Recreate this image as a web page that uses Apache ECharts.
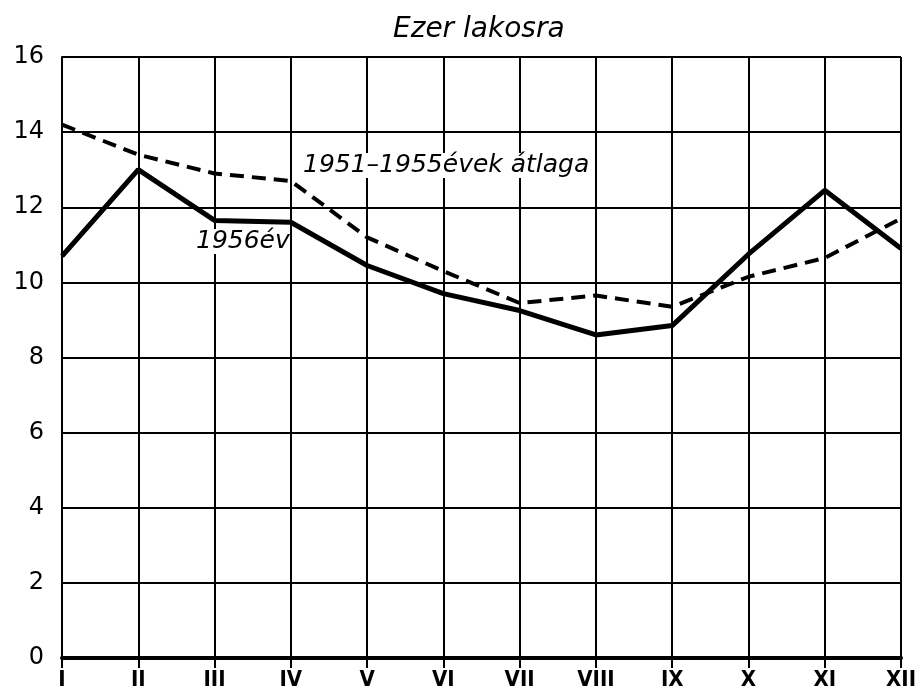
<!DOCTYPE html>
<html>
<head>
<meta charset="utf-8">
<script src="https://cdn.jsdelivr.net/npm/echarts@6/dist/echarts.min.js"></script>
<style>
  html, body { margin: 0; padding: 0; background: #fff; }
  #chart { width: 919px; height: 699px; }
</style>
</head>
<body>
<div id="chart"></div>
<script>
var months = ["I", "II", "III", "IV", "V", "VI", "VII", "VIII", "IX", "X", "XI", "XII"];
var year1956 = [10.7, 13.0, 11.65, 11.6, 10.45, 9.7, 9.25, 8.6, 8.85, 10.75, 12.45, 10.9];
var avg5155 = [14.2, 13.4, 12.9, 12.7, 11.2, 10.3, 9.45, 9.65, 9.35, 10.15, 10.65, 11.7];
var yTicks = [0, 2, 4, 6, 8, 10, 12, 14, 16];

var font = "DejaVu Sans";

var myChart = echarts.init(document.getElementById('chart'));
myChart.setOption({
	animation : false,
	backgroundColor : '#fff',
	title : {
		text : 'Ezer lakosra',
		left : 388,
		top : 11,
		textStyle : {
			fontFamily : font,
			fontStyle : 'italic',
			fontWeight : 'normal',
			fontSize : 28,
			color : '#000'
		}
	},
	grid : {
		left : 62,
		right : 15,
		top : 57,
		bottom : 41
	},
	xAxis : {
		type : 'category',
		data : months,
		boundaryGap : false,
		axisLine : { show : true, lineStyle : { color : '#000', width : 4 } },
		axisTick : { show : true, length : 10, lineStyle : { color : '#000', width : 2 } },
		axisLabel : {
			interval : 0,
			margin : 11,
			fontFamily : "DejaVu Sans Condensed",
			fontWeight : 'bold',
			fontSize : 22,
			lineHeight : 22,
			color : '#000'
		},
		splitLine : { show : true, lineStyle : { color : '#000', width : 2 } }
	},
	yAxis : {
		type : 'value',
		min : 0,
		max : 16,
		interval : 2,
		axisLine : { show : true, lineStyle : { color : '#000', width : 2 } },
		axisTick : { show : false },
		axisLabel : {
			margin : 18,
			fontFamily : font,
			fontSize : 24,
			color : '#000',
			formatter : function(v) { return yTicks.indexOf(v) >= 0 ? String(v) : ''; }
		},
		splitLine : { show : true, lineStyle : { color : '#000', width : 2 } }
	},
	graphic : [
		{
			type : 'text',
			left : 303,
			top : 153,
			z : 10,
			style : {
				text : '1951\u20131955évek átlaga',
				font : 'italic 25px "DejaVu Sans"',
				fill : '#000',
				backgroundColor : '#fff'
			}
		},
		{
			type : 'text',
			left : 196,
			top : 229,
			z : 10,
			style : {
				text : '1956év',
				font : 'italic 25px "DejaVu Sans"',
				fill : '#000',
				backgroundColor : '#fff'
			}
		}
	],
	series : [
		{
			name : '1951-1955 évek átlaga',
			type : 'line',
			data : avg5155,
			symbol : 'none',
			lineStyle : { color : '#000', width : 4, type : [14, 8] },
			z : 3
		},
		{
			name : '1956 év',
			type : 'line',
			data : year1956,
			symbol : 'none',
			lineStyle : { color : '#000', width : 5 },
			z : 4
		}
	]
});
</script>
</body>
</html>
